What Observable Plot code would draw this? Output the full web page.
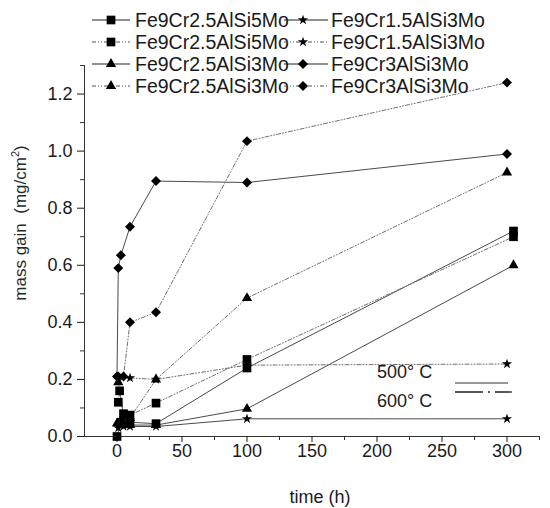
<!DOCTYPE html>
<html><head><meta charset="utf-8">
<script src="https://cdn.jsdelivr.net/npm/d3@7"></script>
<script src="https://cdn.jsdelivr.net/npm/@observablehq/plot@0.6"></script>
<style>
body{margin:0;background:#fff;font-family:Arial,"Liberation Sans",sans-serif;}
#wrap{position:relative;width:550px;height:508px;}
</style></head><body><div id="wrap"></div>
<script>
// ---- data ----
const seriesNames = [
  "Fe9Cr2.5AlSi5Mo", "Fe9Cr2.5AlSi5Mo",
  "Fe9Cr2.5AlSi3Mo", "Fe9Cr2.5AlSi3Mo",
  "Fe9Cr1.5AlSi3Mo", "Fe9Cr1.5AlSi3Mo",
  "Fe9Cr3AlSi3Mo", "Fe9Cr3AlSi3Mo"
];
const seriesTemps = [500, 600, 500, 600, 500, 600, 500, 600];
const seriesSymbols = ["square", "square", "triangle", "triangle", "star", "star", "diamond2", "diamond2"];

const sq500T = [0, 3, 10, 30, 100, 305];
const sq500V = [0.0, 0.05, 0.05, 0.045, 0.24, 0.72];
const sq600T = [1, 2, 5, 10, 30, 100, 305];
const sq600V = [0.12, 0.16, 0.08, 0.075, 0.117, 0.27, 0.70];
const tri500T = [0, 5, 10, 30, 100, 305];
const tri500V = [0.045, 0.045, 0.04, 0.04, 0.097, 0.6];
const tri600T = [1, 5, 10, 30, 100, 300];
const tri600V = [0.19, 0.07, 0.065, 0.2, 0.485, 0.925];
const star500T = [1, 5, 10, 30, 100, 300];
const star500V = [0.03, 0.035, 0.035, 0.035, 0.062, 0.062];
const star600T = [1, 10, 30, 100, 300];
const star600V = [0.2, 0.205, 0.2, 0.25, 0.254];
const dia500T = [0, 1, 3, 10, 30, 100, 300];
const dia500V = [0.21, 0.59, 0.635, 0.735, 0.895, 0.89, 0.99];
const dia600T = [1, 5, 10, 30, 100, 300];
const dia600V = [0.21, 0.21, 0.40, 0.435, 1.035, 1.24];

const xMajorTicks = [0, 50, 100, 150, 200, 250, 300];
const xMinorTicks = [25, 75, 125, 175, 225, 275, 325];
const yMajorTicks = [0, 0.2, 0.4, 0.6, 0.8, 1.0, 1.2];
const yMinorTicks = [0.1, 0.3, 0.5, 0.7, 0.9, 1.1, 1.3];
const tempLabels = ["500° C", "600° C"];

// ---- build table ----
const seriesT = [sq500T, sq600T, tri500T, tri600T, star500T, star600T, dia500T, dia600T];
const seriesV = [sq500V, sq600V, tri500V, tri600V, star500V, star600V, dia500V, dia600V];
const rows = [];
seriesT.forEach((ts, i) => ts.forEach((t, j) => rows.push({s: i, name: seriesNames[i], temp: seriesTemps[i], t, v: seriesV[i][j]})));

const symR = {square: 4.9, triangle: 3.8, star: 3.2, diamond2: 4.5};
const dashDot = "4,2,1,2,1,2";
const solidStroke = "#4a4a4a";
const dashStroke = "#707070";

const marks = [
  Plot.ruleX([-25], {y1: 0, y2: 1.3, stroke: "#333"}),
  Plot.ruleY([0], {x1: -25, x2: 325, stroke: "#333"}),
  Plot.axisX({ticks: xMajorTicks, tickSize: 6, tickPadding: 2, fontSize: 18, label: null, color: "#1a1a1a"}),
  Plot.axisX({ticks: xMinorTicks, tickSize: 4, tickFormat: () => "", label: null, color: "#333"}),
  Plot.axisY({ticks: yMajorTicks, tickSize: 7, tickPadding: 5, fontSize: 18, tickFormat: d3.format(".1f"), label: null, color: "#1a1a1a"}),
  Plot.axisY({ticks: yMinorTicks, tickSize: 4, tickFormat: () => "", label: null, color: "#333"}),
  Plot.line(rows.filter(d => d.temp === 500), {x: "t", y: "v", z: "s", stroke: solidStroke, strokeWidth: 1}),
  Plot.line(rows.filter(d => d.temp === 600), {x: "t", y: "v", z: "s", stroke: dashStroke, strokeWidth: 1, strokeDasharray: dashDot})
];
seriesNames.forEach((n, i) => {
  const sym = seriesSymbols[i];
  marks.push(Plot.dot(rows.filter(d => d.s === i), {x: "t", y: "v", symbol: () => sym, r: symR[sym], fill: "#000", stroke: "none"}));
});

const chart = Plot.plot({
  width: 550, height: 508,
  marginLeft: 84, marginRight: 11, marginTop: 65, marginBottom: 72,
  x: {domain: [-25, 325]},
  y: {domain: [0, 1.3]},
  symbol: {type: "identity"},
  style: {fontFamily: "Arial, 'Liberation Sans', sans-serif", background: "#fff", color: "#1a1a1a"},
  marks
});
document.getElementById("wrap").appendChild(chart);

// ---- titles & legends (layout overlays) ----
const svg = d3.select(chart.tagName.toLowerCase() === "svg" ? chart : chart.querySelector("svg"));
const ff = "Arial, 'Liberation Sans', sans-serif";

svg.append("text").attr("x", 320).attr("y", 503).attr("text-anchor", "middle")
  .attr("font-family", ff).attr("font-size", 18).attr("fill", "#1a1a1a").text("time (h)");

const yl = svg.append("text").attr("transform", "translate(26,223) rotate(-90)").attr("text-anchor", "middle")
  .attr("font-family", ff).attr("font-size", 17).attr("fill", "#1f2a2a");
yl.append("tspan").text("mass gain\u00a0 (mg/cm");
yl.append("tspan").attr("font-size", 11).attr("dy", -7).text("2");
yl.append("tspan").attr("dy", 7).text(")");

// series legend
const legRowY = [20, 42, 64, 86];
const cols = [{lx1: 92, lx2: 130, mx: 111, tx: 135}, {lx1: 284, lx2: 328, mx: 303, tx: 331}];
const leg = svg.append("g").attr("text-anchor", "start");
seriesNames.forEach((n, i) => {
  const c = cols[Math.floor(i / 4)];
  const y = legRowY[i % 4];
  const sym = seriesSymbols[i];
  leg.append("line").attr("x1", c.lx1).attr("x2", c.lx2).attr("y1", y).attr("y2", y)
    .attr("stroke", seriesTemps[i] === 500 ? "#222" : "#555").attr("stroke-width", 1)
    .attr("stroke-dasharray", seriesTemps[i] === 500 ? null : dashDot);
  const symType = {square: d3.symbolSquare, triangle: d3.symbolTriangle, star: d3.symbolStar, diamond2: d3.symbolDiamond2}[sym];
  leg.append("path").attr("transform", `translate(${c.mx},${y})`)
    .attr("d", d3.symbol(symType, Math.PI * symR[sym] * symR[sym])()).attr("fill", "#000");
  leg.append("text").attr("x", c.tx).attr("y", y + 7).attr("text-anchor", "start").attr("font-family", ff).attr("font-size", 19.5)
    .attr("fill", "#1a1a1a").text(n);
});

// temperature legend
const tl = svg.append("g").attr("text-anchor", "start");
tl.append("text").attr("x", 377).attr("y", 378).attr("text-anchor", "start").attr("font-family", ff).attr("font-size", 18).attr("fill", "#1a1a1a").text(tempLabels[0]);
tl.append("text").attr("x", 377).attr("y", 407).attr("text-anchor", "start").attr("font-family", ff).attr("font-size", 18).attr("fill", "#1a1a1a").text(tempLabels[1]);
tl.append("line").attr("x1", 455).attr("x2", 508).attr("y1", 383).attr("y2", 383).attr("stroke", "#333");
tl.append("line").attr("x1", 455).attr("x2", 512).attr("y1", 392).attr("y2", 392).attr("stroke", "#222").attr("stroke-width", 1.3).attr("stroke-dasharray", "28,5,2,5");
</script></body></html>
